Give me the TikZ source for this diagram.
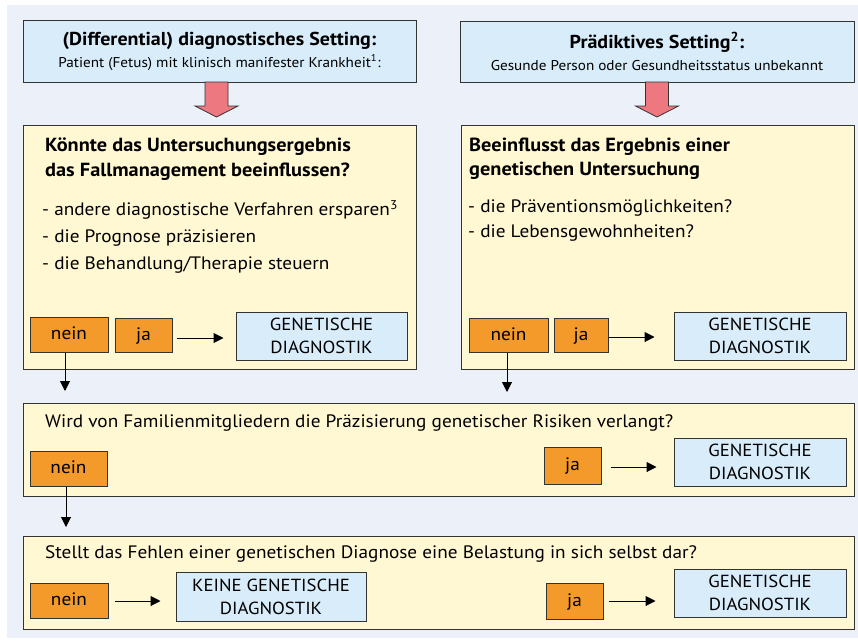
\documentclass[tikz,border=0pt]{standalone}
\usepackage{fontspec}
\setmainfont{PT Sans}[FakeStretch=1.07]
\usetikzlibrary{arrows.meta}
\definecolor{bgc}{HTML}{ECF0F9}
\definecolor{bluebox}{HTML}{D8ECFA}
\definecolor{yelbox}{HTML}{FFF8D3}
\definecolor{orng}{HTML}{F39A2B}
\definecolor{pinkarr}{HTML}{EE7880}
\definecolor{edge}{HTML}{333333}
\tikzset{
  frame/.style={draw=edge, line width=1pt, inner sep=0pt},
  bluefr/.style={frame, fill=bluebox},
  yelfr/.style={frame, fill=yelbox},
  orbox/.style={draw=edge, line width=1pt, fill=orng, inner sep=0pt, text height=13pt, text depth=3pt, font=\fontsize{18}{20}\selectfont},
  genbox/.style={draw=edge, line width=1pt, fill=bluebox, inner sep=0pt, align=center, font=\fontsize{17.5}{23}\selectfont},
  conn/.style={line width=1pt, -{Triangle[length=10pt,width=10pt]}},
  bigarrow/.style={fill=pinkarr, draw=edge, line width=0.8pt},
  lbl/.style={anchor=west, inner sep=0pt},
  bodytxt/.style={lbl, font=\fontsize{18}{20}\selectfont},
  headtxt/.style={lbl, font=\fontsize{19}{21}\selectfont\bfseries},
  toptxt/.style={bluefr, align=center, font=\fontsize{14.2}{22}\selectfont},
}
\begin{document}
\begin{tikzpicture}[x=1pt,y=-1pt]
\useasboundingbox (0,0) rectangle (858,640);
\fill[white] (0,0) rectangle (858,640);
\fill[bgc] (7,5) rectangle (858,638);

% top boxes
\node[toptxt, minimum width=393pt, minimum height=62pt] (tl) at (219.5,51)
  {{\fontsize{18.7}{21}\selectfont\bfseries (Differential) diagnostisches Setting:}\\
   Patient (Fetus) mit klinisch manifester Krankheit\textsuperscript{1}:};
\node[toptxt, minimum width=394pt, minimum height=61pt] (tr) at (657,51.5)
  {{\fontsize{18.7}{21}\selectfont\bfseries Prädiktives Setting\textsuperscript{2}:}\\
   Gesunde Person oder Gesundheitsstatus unbekannt};

% big arrows
\draw[bigarrow] (205,82) -- (228,82) -- (228,106) -- (238,106) -- (216.5,117) -- (195,106) -- (205,106) -- cycle;
\draw[bigarrow] (645.5,82) -- (668.5,82) -- (668.5,106) -- (678.5,106) -- (657,117) -- (635.5,106) -- (645.5,106) -- cycle;

% yellow boxes
\node[yelfr, minimum width=393pt, minimum height=244pt] (yl) at (219.5,247) {};
\node[yelfr, minimum width=393pt, minimum height=244pt] (yr) at (657.5,247) {};
\node[yelfr, minimum width=831pt, minimum height=93pt] (y3) at (438.5,449.5) {};
\node[yelfr, minimum width=831pt, minimum height=93pt] (y4) at (438.5,582.5) {};

% left yellow text
\node[headtxt] (lq1) at (45,147) {Könnte das Untersuchungsergebnis};
\node[headtxt] (lq2) at (45,172) {das Fallmanagement beeinflussen?};
\node[bodytxt] (lb1) at (42,210) {- andere diagnostische Verfahren ersparen\textsuperscript{3}};
\node[bodytxt] (lb2) at (42,238) {- die Prognose präzisieren};
\node[bodytxt] (lb3) at (42,265) {- die Behandlung/Therapie steuern};

% right yellow text
\node[headtxt] (rq1) at (469,147) {Beeinflusst das Ergebnis einer};
\node[headtxt] (rq2) at (469,171) {genetischen Untersuchung};
\node[bodytxt] (rb1) at (468,208) {- die Präventionsmöglichkeiten?};
\node[bodytxt] (rb2) at (468,233) {- die Lebensgewohnheiten?};

% row 1 left
\node[orbox, minimum width=78pt, minimum height=35pt] (ln) at (69,334.5) {nein};
\node[orbox, minimum width=57pt, minimum height=34pt] (lj) at (143.5,335) {ja};
\node[genbox, minimum width=171pt, minimum height=48pt] (lg) at (321.5,336) {GENETISCHE\\DIAGNOSTIK};
\draw[conn, shorten <=4pt, shorten >=12pt] (lj.east |- 0,338) -- (lg.west |- 0,338);
\coordinate (ld) at (65,391);
\draw[conn] (ln.south -| ld) -- (ld);

% row 1 right
\node[orbox, minimum width=79pt, minimum height=34pt] (rn) at (508.5,335) {nein};
\node[orbox, minimum width=54pt, minimum height=34pt] (rj) at (581,335) {ja};
\node[genbox, minimum width=172pt, minimum height=48pt] (rg) at (760,336) {GENETISCHE\\DIAGNOSTIK};
\draw[conn, shorten >=19pt] (rj.east |- 0,337) -- (rg.west |- 0,337);
\coordinate (rd) at (507,392);
\draw[conn] (rn.south -| rd) -- (rd);

% row 3
\node[bodytxt] (q3) at (45,423) {Wird von Familienmitgliedern die Präzisierung genetischer Risiken verlangt?};
\node[orbox, minimum width=77pt, minimum height=35pt] (n3) at (68.5,468.5) {nein};
\node[orbox, minimum width=57pt, minimum height=37pt] (j3) at (572.5,465.5) {ja};
\node[genbox, minimum width=172pt, minimum height=48pt] (g3) at (760,462) {GENETISCHE\\DIAGNOSTIK};
\draw[conn, shorten <=9pt, shorten >=17pt] (j3.east |- 0,467) -- (g3.west |- 0,467);
\coordinate (d3) at (66,527);
\draw[conn] (n3.south -| d3) -- (d3);

% row 4
\node[bodytxt] (q4) at (45,554) {Stellt das Fehlen einer genetischen Diagnose eine Belastung in sich selbst dar?};
\node[orbox, minimum width=78pt, minimum height=35pt] (n4) at (69,600.5) {nein};
\node[genbox, minimum width=190pt, minimum height=49pt] (k4) at (271,596.5) {KEINE GENETISCHE\\DIAGNOSTIK};
\draw[conn, shorten <=6pt, shorten >=15pt] (n4.east |- 0,601) -- (k4.west |- 0,601);
\node[orbox, minimum width=57pt, minimum height=36pt] (j4) at (574.5,601) {ja};
\node[genbox, minimum width=172pt, minimum height=48pt] (g4) at (760,593) {GENETISCHE\\DIAGNOSTIK};
\draw[conn, shorten <=5pt, shorten >=18pt] (j4.east |- 0,601) -- (g4.west |- 0,601);
\end{tikzpicture}
\end{document}
